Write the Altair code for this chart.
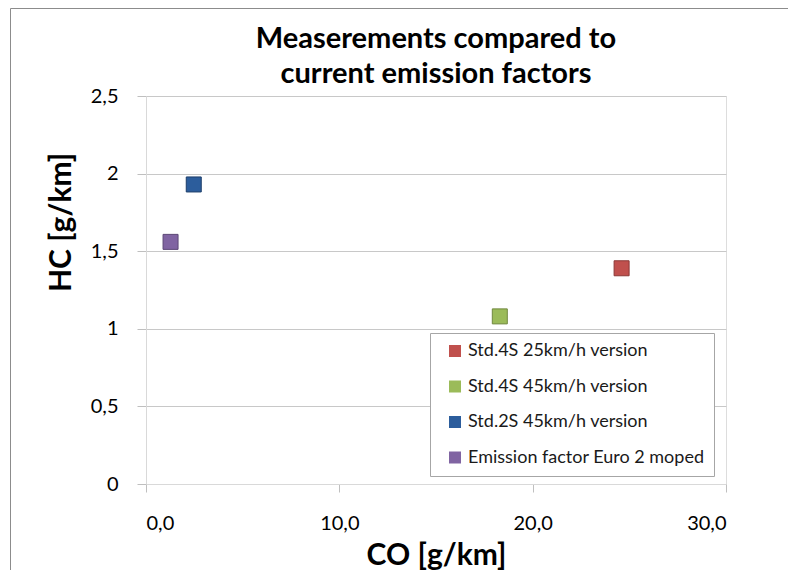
import altair as alt
import pandas as pd

series = ["Std.4S 25km/h version", "Std.4S 45km/h version",
          "Std.2S 45km/h version", "Emission factor Euro 2 moped"]
co = [24.6, 18.3, 2.47, 1.27]
hc = [1.39, 1.08, 1.93, 1.56]
fill_colors = ["#C0504D", "#9BBB59", "#2C5D9C", "#8064A2"]
edge_colors = ["#8C3836", "#71893F", "#1D3E6A", "#5C4776"]
x_ticks = [0, 10, 20, 30]
y_ticks = [0, 0.5, 1, 1.5, 2, 2.5]

df = pd.DataFrame({"series": series, "CO": co, "HC": hc})

FONT = "Lato"

points = alt.Chart(df).mark_square(size=225, opacity=1, strokeWidth=1).encode(
    x=alt.X("CO:Q", scale=alt.Scale(domain=[0, 30], nice=False),
            axis=alt.Axis(values=x_ticks, grid=False,
                          labelExpr="replace(format(datum.value, '.1f'), '.', ',')",
                          tickSize=8, tickColor="#bfbfbf", domainColor="#d9d9d9",
                          labelFontSize=20, labelPadding=21, labelColor="#000000",
                          labelFont=FONT,
                          title="CO [g/km]", titleFont=FONT, titleFontSize=30,
                          titleFontWeight="bold", titleColor="#000000",
                          titleY=80, titleBaseline="alphabetic")),
    y=alt.Y("HC:Q", scale=alt.Scale(domain=[0, 2.5], nice=False),
            axis=alt.Axis(values=y_ticks, grid=True, gridColor="#c8c8c8",
                          labelExpr="replace(format(datum.value, '~g'), '.', ',')",
                          tickSize=9, tickColor="#bfbfbf", domainColor="#d9d9d9",
                          labelFontSize=20, labelPadding=19, labelColor="#000000",
                          labelFont=FONT,
                          title="HC [g/km]", titleFont=FONT, titleFontSize=30,
                          titleFontWeight="bold", titleColor="#000000",
                          titleAngle=270, titleX=-76, titleY=126,
                          titleBaseline="alphabetic", titleAlign="center")),
    color=alt.Color("series:N", scale=alt.Scale(domain=series, range=fill_colors),
                    legend=alt.Legend(title=None, orient="none", legendX=284, legendY=237,
                                      symbolType="square", symbolSize=144,
                                      symbolStrokeWidth=0, symbolOffset=7,
                                      labelFont=FONT, labelFontSize=18,
                                      labelColor="#1a1a1a", labelOffset=4,
                                      rowPadding=17.5, padding=9,
                                      strokeColor="#a6a6a6", fillColor="#ffffff",
                                      labelLimit=400)),
    stroke=alt.Stroke("series:N", scale=alt.Scale(domain=series, range=edge_colors),
                      legend=None),
)

frame_top = alt.Chart(pd.DataFrame({"k": [0]})).mark_rule(color="#8c8c8c", strokeWidth=1).encode(
    x=alt.value(-135.5), x2=alt.value(642), y=alt.value(-87.5))
frame_left = alt.Chart(pd.DataFrame({"k": [0]})).mark_rule(color="#8c8c8c", strokeWidth=1).encode(
    x=alt.value(-135.5), y=alt.value(-87.5), y2=alt.value(474))

chart = alt.layer(frame_top, frame_left, points).properties(
    width=580, height=388,
    autosize=alt.AutoSizeParams(type="none"),
    padding={"left": 138, "top": 88, "right": 62, "bottom": 86},
    title=alt.Title(["Measerements compared to", "current emission factors"],
                    font=FONT, fontSize=29, fontWeight="bold", color="#000000",
                    anchor="middle", lineHeight=35, offset=-81),
).configure_view(stroke=None).configure(background="#ffffff")

chart.save("out.html", embed_options={"renderer": "svg", "actions": False})
